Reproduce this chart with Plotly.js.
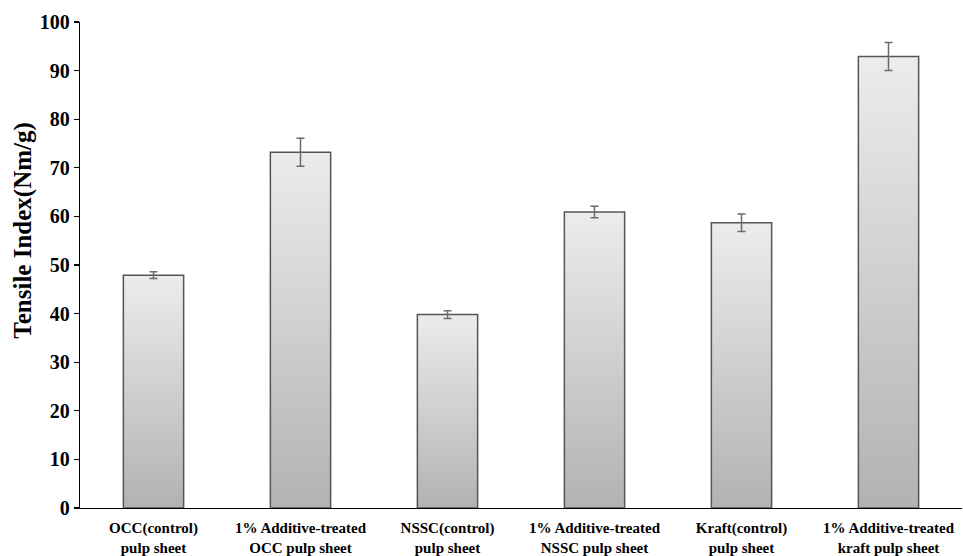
<!DOCTYPE html>
<html>
<head>
<meta charset="utf-8">
<script src="https://cdn.plot.ly/plotly-3.0.1.min.js"></script>
<style>html,body{margin:0;padding:0;background:#fff;}#chart{width:963px;height:556px;}</style>
</head>
<body>
<div id="chart"></div>
<script>
var categories = [
  "OCC(control)<br>pulp sheet",
  "1% Additive-treated<br>OCC pulp sheet",
  "NSSC(control)<br>pulp sheet",
  "1% Additive-treated<br>NSSC pulp sheet",
  "Kraft(control)<br>pulp sheet",
  "1% Additive-treated<br>kraft pulp sheet"
];
var tensileIndex = [47.9, 73.2, 39.8, 60.9, 58.7, 92.9];
var errorValues = [0.7, 2.9, 0.8, 1.2, 1.8, 2.9];
var yTicks = [0, 10, 20, 30, 40, 50, 60, 70, 80, 90, 100];
var yTitle = 'Tensile Index(Nm/g)';

var fontFam = '"Liberation Serif", "Times New Roman", serif';

var trace = {
  type: 'bar',
  x: categories,
  y: tensileIndex,
  error_y: {type: 'data', array: errorValues, visible: true, color: '#6b6b6b', thickness: 1.5, width: 4},
  marker: {color: '#d0d0d0', line: {color: '#555555', width: 1.5}},
  hoverinfo: 'none'
};

var layout = {
  width: 963, height: 556,
  margin: {l: 80, r: 1, t: 22, b: 48},
  paper_bgcolor: '#ffffff', plot_bgcolor: '#ffffff',
  bargap: 0.59,
  showlegend: false,
  font: {family: fontFam, color: '#000'},
  xaxis: {
    showline: true, linecolor: '#000', linewidth: 1.2,
    ticks: '', showgrid: false, zeroline: false,
    tickfont: {family: fontFam, size: 15, color: '#000', weight: 'bold'},
    ticklabelstandoff: 6,
    tickangle: 0, automargin: false
  },
  yaxis: {
    range: [0, 100], tickvals: yTicks, ticktext: yTicks.map(String),
    showline: true, linecolor: '#000', linewidth: 1.2,
    ticks: 'outside', ticklen: 5, tickcolor: '#000', tickwidth: 1.2,
    showgrid: false, zeroline: false,
    tickfont: {family: fontFam, size: 20, color: '#000', weight: 'bold'},
    automargin: false
  },
  annotations: [{
    text: yTitle, xref: 'paper', yref: 'paper', x: -0.065, y: 0.57,
    xanchor: 'center', yanchor: 'middle', textangle: -90, showarrow: false,
    font: {family: fontFam, size: 25, color: '#000', weight: 'bold'}
  }]
};

Plotly.newPlot('chart', [trace], layout, {staticPlot: true, displayModeBar: false}).then(function(gd){
  var svg = gd.querySelector('svg.main-svg');
  var ns = 'http://www.w3.org/2000/svg';
  var defs = svg.querySelector('defs') || svg.insertBefore(document.createElementNS(ns, 'defs'), svg.firstChild);
  var lg = document.createElementNS(ns, 'linearGradient');
  lg.setAttribute('id', 'barGrad');
  lg.setAttribute('x1', '0'); lg.setAttribute('y1', '0');
  lg.setAttribute('x2', '0'); lg.setAttribute('y2', '1');
  [['0', '#ececec'], ['1', '#b2b2b2']].forEach(function(s){
    var st = document.createElementNS(ns, 'stop');
    st.setAttribute('offset', s[0]);
    st.setAttribute('stop-color', s[1]);
    lg.appendChild(st);
  });
  defs.appendChild(lg);
  gd.querySelectorAll('.bars .point path').forEach(function(p){
    p.style.fill = 'url(#barGrad)';
  });
});
</script>
</body>
</html>
